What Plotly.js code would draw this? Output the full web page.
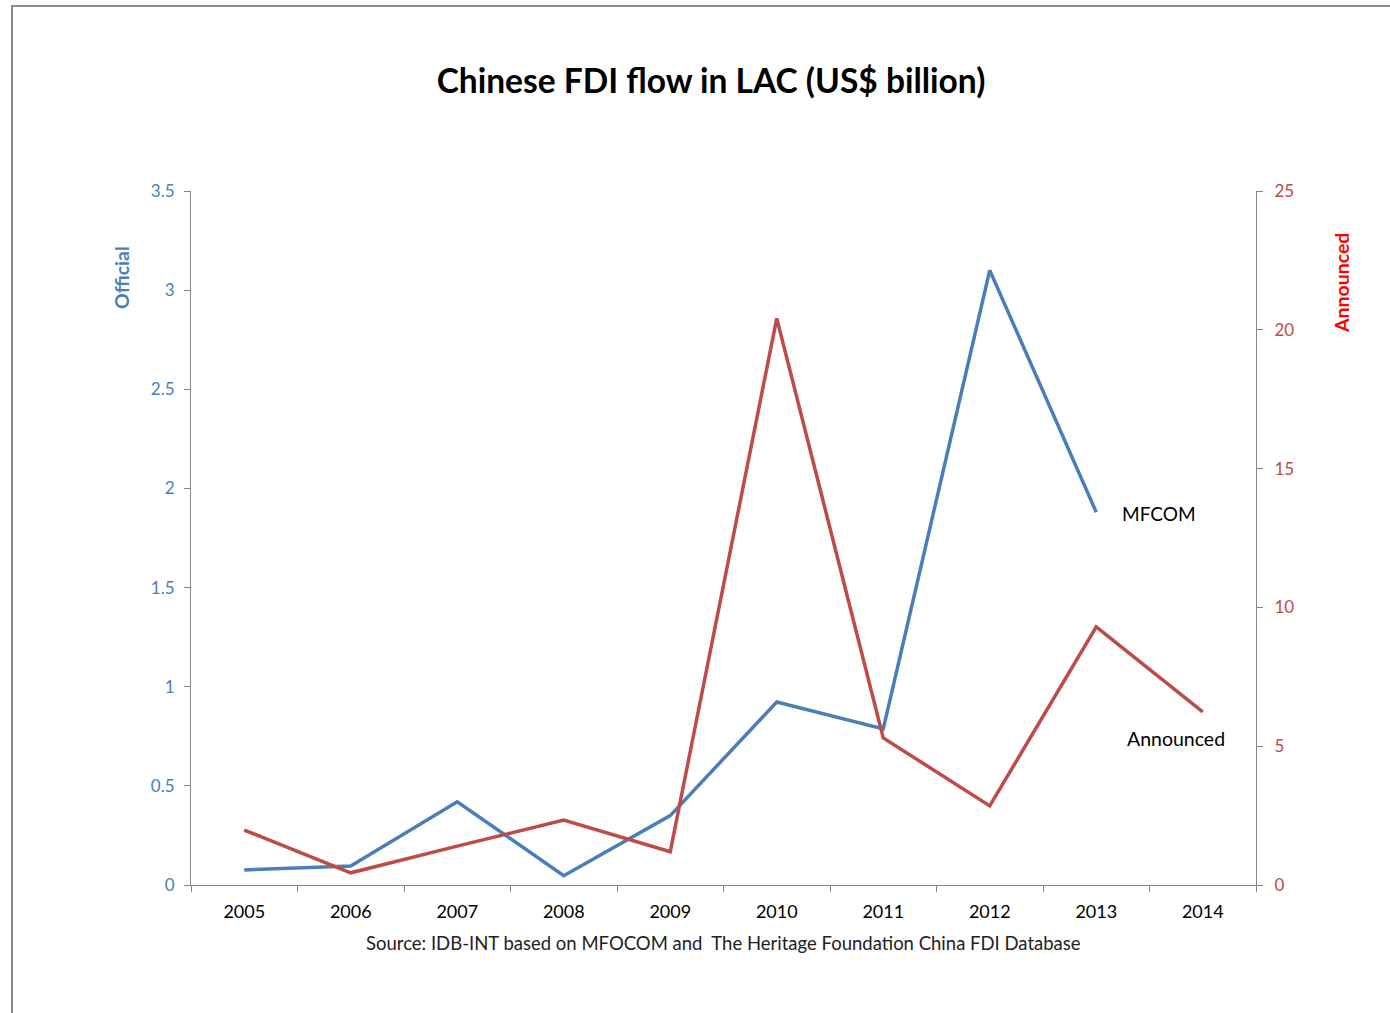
<!DOCTYPE html>
<html>
<head>
<meta charset="utf-8">
<script src="https://cdn.plot.ly/plotly-3.0.1.min.js"></script>
<style>
  html, body { margin: 0; padding: 0; background: #fff; }
  #frame { position: absolute; left: 11px; top: 5px; width: 1379px; height: 1008px;
           border-left: 2px solid #8a8a8a; border-top: 2px solid #8a8a8a; box-sizing: border-box; pointer-events: none; z-index: 5; }
  #chart { position: absolute; left: 0; top: 0; width: 1390px; height: 1013px; }
</style>
</head>
<body>
<div id="chart"></div>
<div id="frame"></div>
<script>
const years = ["2005","2006","2007","2008","2009","2010","2011","2012","2013","2014"];
const officialYears = ["2005","2006","2007","2008","2009","2010","2011","2012","2013"];
const official = [0.076, 0.096, 0.42, 0.047, 0.35, 0.923, 0.787, 3.10, 1.88];
const announced = [1.98, 0.44, 1.40, 2.34, 1.20, 20.41, 5.30, 2.85, 9.30, 6.24];
const leftTicks = [0, 0.5, 1, 1.5, 2, 2.5, 3, 3.5];
const rightTicks = [0, 5, 10, 15, 20, 25];

const FONT = "Lato, 'Open Sans', sans-serif";

const traces = [
  { x: officialYears, y: official, type: "scatter", mode: "lines", name: "MFCOM",
    line: { color: "#4A7EBB", width: 3.5 }, yaxis: "y", hoverinfo: "x+y" },
  { x: years, y: announced, type: "scatter", mode: "lines", name: "Announced",
    line: { color: "#BE4B48", width: 3.5 }, yaxis: "y2", hoverinfo: "x+y" }
];

const layout = {
  width: 1390, height: 1013,
  margin: { l: 191, r: 134, t: 191, b: 128 },
  paper_bgcolor: "rgba(0,0,0,0)", plot_bgcolor: "rgba(0,0,0,0)",
  showlegend: false,
  font: { family: FONT, color: "#000" },
  title: { text: "<b>Chinese FDI flow in LAC (US$ billion)</b>", x: 711/1390, xref: "container", xanchor: "center",
           y: 1 - 81/1013, yref: "container", yanchor: "middle",
           font: { family: FONT, size: 33.5, color: "#000" } },
  xaxis: {
    type: "category", categoryorder: "array", categoryarray: years,
    range: [-0.5, 9.5], tickson: "boundaries",
    showline: true, linecolor: "#868686", linewidth: 1,
    ticks: "outside", ticklen: 6, tickcolor: "#868686", ticklabelstandoff: 10,
    showgrid: false, zeroline: false,
    tickfont: { family: FONT, size: 18, color: "#000" }
  },
  yaxis: {
    range: [0, 3.5], tickvals: leftTicks, ticktext: leftTicks.map(String),
    showline: true, linecolor: "#868686", linewidth: 1,
    ticks: "outside", ticklen: 6, tickcolor: "#868686", ticklabelstandoff: 6,
    showgrid: false, zeroline: false,
    tickfont: { family: FONT, size: 17, color: "#4A7EBB" }
  },
  yaxis2: {
    overlaying: "y", side: "right",
    range: [0, 25], tickvals: rightTicks, ticktext: rightTicks.map(String),
    showline: true, linecolor: "#868686", linewidth: 1,
    ticks: "outside", ticklen: 6, tickcolor: "#868686", ticklabelstandoff: 8,
    showgrid: false, zeroline: false,
    tickfont: { family: FONT, size: 17, color: "#BE4B48" }
  },
  annotations: [
    { text: "<b>Official</b>", xref: "paper", yref: "paper", x: -70/1065, y: (885-278)/694,
      textangle: -90, showarrow: false, xanchor: "center", yanchor: "middle",
      font: { family: FONT, size: 19.5, color: "#4A7EBB" } },
    { text: "<b>Announced</b>", xref: "paper", yref: "paper", x: 1 + 85/1065, y: (885-283)/694,
      textangle: -90, showarrow: false, xanchor: "center", yanchor: "middle",
      font: { family: FONT, size: 19.5, color: "#FF0000" } },
    { text: "MFCOM", xref: "paper", yref: "paper", x: (1159-191)/1065, y: (885-513)/694,
      showarrow: false, xanchor: "center", yanchor: "middle",
      font: { family: FONT, size: 19, color: "#000" } },
    { text: "Announced", xref: "paper", yref: "paper", x: (1176-191)/1065, y: (885-738)/694,
      showarrow: false, xanchor: "center", yanchor: "middle",
      font: { family: FONT, size: 19.5, color: "#000" } },
    { text: "Source: IDB-INT based on MFOCOM and  The Heritage Foundation China FDI Database",
      xref: "paper", yref: "paper", x: (723-191)/1065, y: -(943-885)/694,
      showarrow: false, xanchor: "center", yanchor: "middle",
      font: { family: FONT, size: 18.5, color: "#222" } }
  ]
};

Plotly.newPlot("chart", traces, layout, { displayModeBar: false, staticPlot: true });
</script>
</body>
</html>
